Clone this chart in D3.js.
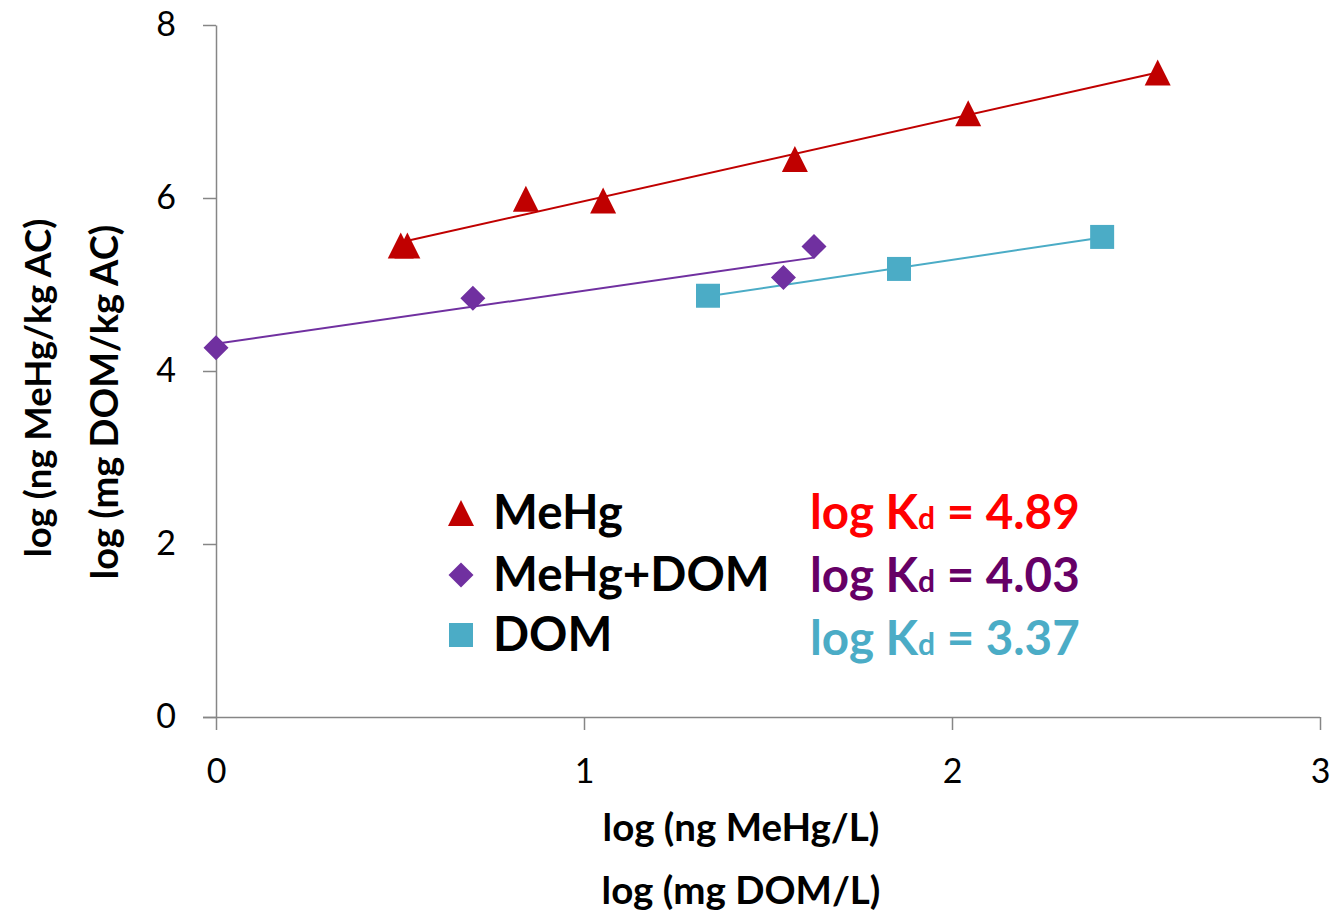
<!DOCTYPE html>
<html>
<head>
<meta charset="utf-8">
<script src="https://cdn.jsdelivr.net/npm/d3@7"></script>
<style>
  html, body { margin: 0; padding: 0; background: #fff; }
  svg { display: block; font-family: Lato, "Open Sans", sans-serif; }
</style>
</head>
<body>
<svg id="chart" width="1334" height="921"></svg>
<script>
// series
const mehgX = [0.502, 0.520, 0.842, 1.052, 1.573, 2.044, 2.559];
const mehgY = [5.45, 5.45, 5.99, 5.97, 6.45, 6.98, 7.45];
const mixX = [0.0, 0.698, 1.542, 1.625];
const mixY = [4.27, 4.84, 5.08, 5.44];
const domX = [1.337, 1.856, 2.408];
const domY = [4.87, 5.18, 5.55];

const seriesNames = ["MeHg", "MeHg+DOM", "DOM"];
const kdLabels = ["4.89", "4.03", "3.37"];
const xTicks = [0, 1, 2, 3];
const yTicks = [0, 2, 4, 6, 8];

const colors = {
  mehg: "#C00000",
  mix: "#7030A0",
  dom: "#4BACC6",
  kdMehg: "#FF0000",
  kdMix: "#660066",
  kdDom: "#4BACC6",
  axis: "#868686",
};

const svg = d3.select("#chart");

const x = d3.scaleLinear().domain([0, 3]).range([216, 1320]);
const y = d3.scaleLinear().domain([0, 8]).range([717, 25]);

const markers = {
  triangle: "M0,-13L13,13L-13,13Z",
  diamond: "M0,-12.5L12.5,0L0,12.5L-12.5,0Z",
  square: "M-12,-12H12V12H-12Z",
};

const series = [
  { xs: mehgX, ys: mehgY, color: colors.mehg, marker: "triangle" },
  { xs: mixX, ys: mixY, color: colors.mix, marker: "diamond" },
  { xs: domX, ys: domY, color: colors.dom, marker: "square" },
];

// axes
const xAxis = svg.append("g")
  .attr("transform", `translate(0,${y(0)})`)
  .call(d3.axisBottom(x).tickValues(xTicks).tickSize(13).tickSizeOuter(0).tickPadding(29).tickFormat(d3.format("d")));
const yAxis = svg.append("g")
  .attr("transform", `translate(${x(0)},0)`)
  .call(d3.axisLeft(y).tickValues(yTicks).tickSize(13).tickSizeOuter(0).tickPadding(27).tickFormat(d3.format("d")));

[xAxis, yAxis].forEach((g) => {
  g.selectAll("path, line").attr("stroke", colors.axis).attr("stroke-width", 1.5);
  g.selectAll("text")
    .attr("fill", "#000")
    .style("font-family", "Lato, sans-serif")
    .style("font-size", "34px");
});
xAxis.select(".domain").attr("d", `M${x(0) - 13},0.5H${x(3)}`);

// least-squares trend line for each series
function fit(xs, ys) {
  const mx = d3.mean(xs), my = d3.mean(ys);
  let sxy = 0, sxx = 0;
  xs.forEach((v, i) => {
    sxy += (v - mx) * (ys[i] - my);
    sxx += (v - mx) * (v - mx);
  });
  const slope = sxy / sxx;
  return { slope, intercept: my - slope * mx };
}

series.forEach((s) => {
  const { slope, intercept } = fit(s.xs, s.ys);
  const [x0, x1] = d3.extent(s.xs);
  svg.append("line")
    .attr("x1", x(x0)).attr("y1", y(slope * x0 + intercept))
    .attr("x2", x(x1)).attr("y2", y(slope * x1 + intercept))
    .attr("stroke", s.color)
    .attr("stroke-width", 2);
});

series.forEach((s) => {
  svg.append("g")
    .selectAll("path")
    .data(s.xs.map((v, i) => [v, s.ys[i]]))
    .join("path")
    .attr("d", markers[s.marker])
    .attr("transform", (d) => `translate(${x(d[0])},${y(d[1])})`)
    .attr("fill", s.color);
});

// legend
const legend = svg.append("g");
const rowY = [513, 575, 635];
series.forEach((s, i) => {
  legend.append("path")
    .attr("d", markers[s.marker])
    .attr("transform", `translate(461,${rowY[i]})`)
    .attr("fill", s.color);
  legend.append("text")
    .attr("x", 493)
    .attr("y", rowY[i] + 16)
    .attr("font-size", 47.5)
    .attr("font-weight", "bold")
    .attr("fill", "#000")
    .text(seriesNames[i]);
});

// Kd annotations
const kdColors = [colors.kdMehg, colors.kdMix, colors.kdDom];
const kdBase = [529, 592, 655];
kdLabels.forEach((v, i) => {
  const t = svg.append("text")
    .attr("x", 810)
    .attr("y", kdBase[i])
    .attr("font-size", 47.5)
    .attr("font-weight", "bold")
    .attr("fill", kdColors[i]);
  t.append("tspan").text("log K");
  t.append("tspan").attr("font-size", 30).text("d");
  t.append("tspan").text(" = " + v);
});

// axis titles
const xTitles = ["log (ng MeHg/L)", "log (mg DOM/L)"];
const xTitleY = [841, 904];
xTitles.forEach((t, i) => {
  svg.append("text")
    .attr("x", 741)
    .attr("y", xTitleY[i])
    .attr("text-anchor", "middle")
    .attr("font-size", 38.5)
    .attr("font-weight", "bold")
    .text(t);
});

const yTitles = ["log (ng MeHg/kg AC)", "log (mg DOM/kg AC)"];
const yTitlePos = [[51, 388], [118, 402]];
const yTitleSize = [36.5, 38];
yTitles.forEach((t, i) => {
  svg.append("text")
    .attr("transform", `translate(${yTitlePos[i][0]},${yTitlePos[i][1]}) rotate(-90)`)
    .attr("text-anchor", "middle")
    .attr("font-size", yTitleSize[i])
    .attr("font-weight", "bold")
    .text(t);
});
</script>
</body>
</html>
